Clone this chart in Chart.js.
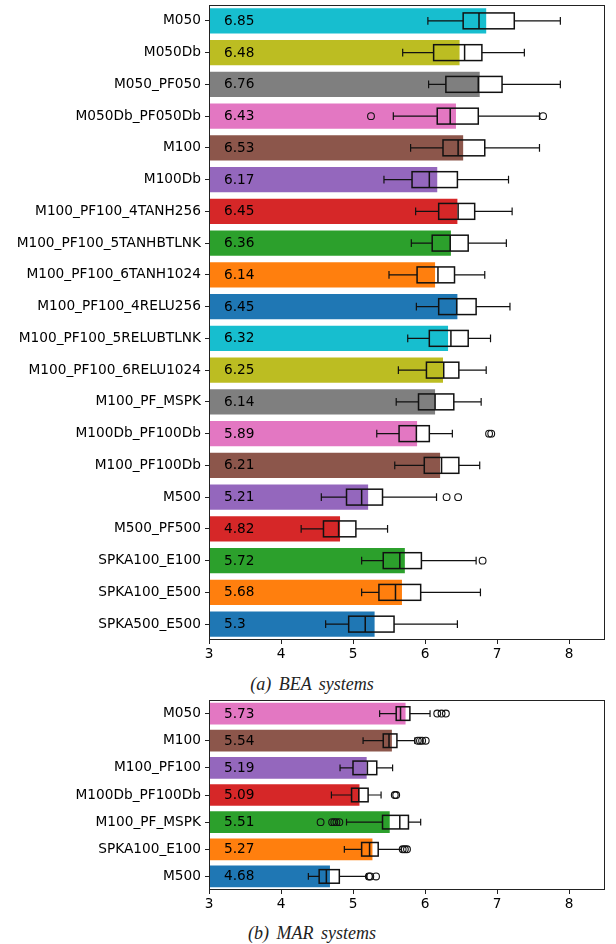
<!DOCTYPE html>
<html>
<head>
<meta charset="utf-8">
<script src="https://cdn.jsdelivr.net/npm/chart.js@4/dist/chart.umd.min.js"></script>
<style>
  body { margin: 0; background: #fff; width: 616px; height: 944px; position: relative; overflow: hidden; }
  canvas { position: absolute; left: 0; }
  .cap { position: absolute; left: 4px; width: 616px; text-align: center; font-family: 'Liberation Serif', serif;
         font-style: italic; font-size: 18px; line-height: 20px; color: #222; word-spacing: 3px; }
</style>
</head>
<body>
<canvas id="bea" width="616" height="670" style="top:0"></canvas>
<div class="cap" style="top:674px">(a) BEA systems</div>
<canvas id="mar" width="616" height="225" style="top:695px"></canvas>
<div class="cap" style="top:923px">(b) MAR systems</div>
<script>
// ---- BEA systems ----
const beaLabels = ['M050', 'M050Db', 'M050_PF050', 'M050Db_PF050Db', 'M100', 'M100Db',
  'M100_PF100_4TANH256', 'M100_PF100_5TANHBTLNK', 'M100_PF100_6TANH1024',
  'M100_PF100_4RELU256', 'M100_PF100_5RELUBTLNK', 'M100_PF100_6RELU1024',
  'M100_PF_MSPK', 'M100Db_PF100Db', 'M100_PF100Db', 'M500', 'M500_PF500',
  'SPKA100_E100', 'SPKA100_E500', 'SPKA500_E500'];
const beaMeans = [6.85, 6.48, 6.76, 6.43, 6.53, 6.17, 6.45, 6.36, 6.14, 6.45,
  6.32, 6.25, 6.14, 5.89, 6.21, 5.21, 4.82, 5.72, 5.68, 5.3];
const beaLow = [6.04, 5.69, 6.05, 5.56, 5.80, 5.43, 5.87, 5.81, 5.50, 5.88,
  5.76, 5.63, 5.60, 5.33, 5.58, 4.56, 4.28, 5.12, 5.12, 4.62];
const beaQ1 = [6.53, 6.12, 6.29, 6.17, 6.25, 5.82, 6.19, 6.10, 5.89, 6.19,
  6.06, 6.02, 5.91, 5.64, 5.99, 4.91, 4.59, 5.42, 5.36, 4.94];
const beaMedian = [6.75, 6.55, 6.74, 6.35, 6.46, 6.06, 6.46, 6.35, 6.18, 6.44,
  6.36, 6.26, 6.14, 5.88, 6.23, 5.12, 4.80, 5.65, 5.59, 5.17];
const beaQ3 = [7.24, 6.79, 7.07, 6.74, 6.83, 6.45, 6.69, 6.60, 6.41, 6.71,
  6.60, 6.47, 6.40, 6.06, 6.47, 5.41, 5.04, 5.95, 5.94, 5.57];
const beaHigh = [7.88, 7.38, 7.88, 7.59, 7.59, 7.16, 7.21, 7.13, 6.83, 7.18,
  6.91, 6.85, 6.78, 6.38, 6.76, 6.16, 5.48, 6.71, 6.77, 6.45];
const beaOutliers = [[], [], [], [5.25, 7.64], [], [], [], [], [], [],
  [], [], [], [6.89, 6.92], [], [6.30, 6.46], [], [6.80], [], []];

// ---- MAR systems ----
const marLabels = ['M050', 'M100', 'M100_PF100', 'M100Db_PF100Db', 'M100_PF_MSPK', 'SPKA100_E100', 'M500'];
const marMeans = [5.73, 5.54, 5.19, 5.09, 5.51, 5.27, 4.68];
const marLow = [5.37, 5.14, 4.82, 4.70, 4.91, 4.88, 4.38];
const marQ1 = [5.60, 5.42, 5.00, 4.98, 5.41, 5.12, 4.53];
const marMedian = [5.66, 5.50, 5.20, 5.08, 5.65, 5.23, 4.63];
const marQ3 = [5.79, 5.61, 5.33, 5.21, 5.77, 5.35, 4.81];
const marHigh = [6.07, 5.86, 5.55, 5.39, 5.94, 5.67, 5.19];
const marOutliers = [[6.17, 6.23, 6.29], [5.90, 5.93, 5.96, 6.01], [], [5.58, 5.60],
  [4.55, 4.71, 4.74, 4.77, 4.81], [5.69, 5.72, 5.75], [5.22, 5.24, 5.32]];

// x axis ticks
const xTicks = [3, 4, 5, 6, 7, 8];
const xMin = 3, xMax = 8.5;

const tab10 = ['#1f77b4', '#ff7f0e', '#2ca02c', '#d62728', '#9467bd',
  '#8c564b', '#e377c2', '#7f7f7f', '#bcbd22', '#17becf'];
// colour cycle starts from the bottom bar
const cycleColors = n => Array.from({ length: n }, (_, i) => tab10[(n - 1 - i) % 10]);

const FONT = { family: "'DejaVu Sans', sans-serif", size: 13.7 };

// Boxplots, value labels and the axes frame drawn through the chart scales
const boxPlugin = {
  id: 'boxes',
  afterDatasetsDraw(chart) {
    const st = chart.options.plugins.boxes;
    const { ctx, chartArea: a } = chart;
    const x = chart.scales.x, y = chart.scales.y;
    const band = Math.abs(y.getPixelForValue(1) - y.getPixelForValue(0));
    ctx.save();
    // value labels
    ctx.fillStyle = '#000';
    ctx.font = `${FONT.size}px ${FONT.family}`;
    ctx.textBaseline = 'middle';
    ctx.textAlign = 'left';
    st.means.forEach((v, i) => {
      ctx.fillText(String(v), a.left + 15, y.getPixelForValue(i) + 0.5);
    });
    // boxplots
    ctx.strokeStyle = '#111';
    st.q1.forEach((_, i) => {
      const yc = y.getPixelForValue(i);
      const hb = band * 0.25, hc = band * 0.125;
      const pL = x.getPixelForValue(st.low[i]), p1 = x.getPixelForValue(st.q1[i]);
      const pm = x.getPixelForValue(st.med[i]), p3 = x.getPixelForValue(st.q3[i]);
      const pH = x.getPixelForValue(st.high[i]);
      ctx.lineWidth = 1.2;
      ctx.beginPath();
      ctx.moveTo(pL, yc); ctx.lineTo(p1, yc);
      ctx.moveTo(p3, yc); ctx.lineTo(pH, yc);
      ctx.moveTo(pL, yc - hc); ctx.lineTo(pL, yc + hc);
      ctx.moveTo(pH, yc - hc); ctx.lineTo(pH, yc + hc);
      ctx.stroke();
      ctx.lineWidth = 1.5;
      ctx.strokeRect(p1, yc - hb, p3 - p1, hb * 2);
      ctx.beginPath();
      ctx.moveTo(pm, yc - hb); ctx.lineTo(pm, yc + hb);
      ctx.stroke();
      ctx.lineWidth = 1.1;
      st.outliers[i].forEach(v => {
        ctx.beginPath();
        ctx.arc(x.getPixelForValue(v), yc, 3.4, 0, Math.PI * 2);
        ctx.stroke();
      });
    });
    // frame
    ctx.lineWidth = 1;
    ctx.strokeStyle = '#222';
    ctx.strokeRect(Math.round(a.left) + 0.5, Math.round(a.top) + 0.5,
      Math.round(a.right - a.left) - 1, Math.round(a.bottom - a.top) - 1);
    ctx.restore();
  }
};

function makeChart(id, labels, means, low, q1, med, q3, high, outliers, topPad) {
  return new Chart(document.getElementById(id), {
    type: 'bar',
    data: {
      labels,
      datasets: [{
        data: means,
        backgroundColor: cycleColors(labels.length),
        borderWidth: 0,
        barPercentage: 0.8,
        categoryPercentage: 1.0
      }]
    },
    options: {
      indexAxis: 'y',
      responsive: false,
      animation: false,
      devicePixelRatio: 1,
      layout: { padding: { top: topPad, right: 11, left: 0, bottom: 0 } },
      plugins: {
        legend: { display: false },
        tooltip: { enabled: false },
        boxes: { means, low, q1, med, q3, high, outliers }
      },
      scales: {
        x: {
          type: 'linear', min: xMin, max: xMax,
          afterBuildTicks: s => { s.ticks = xTicks.map(v => ({ value: v })); },
          afterFit: s => { s.height = 30; },
          grid: { display: true, drawOnChartArea: false, drawTicks: true, tickLength: 4, color: '#222' },
          border: { display: false },
          ticks: { font: FONT, color: '#000', padding: 2, maxRotation: 0 }
        },
        y: {
          type: 'category',
          afterFit: s => { s.width = 209; s.paddingTop = 0; s.paddingBottom = 0; },
          grid: { display: true, drawOnChartArea: false, drawTicks: true, tickLength: 4, color: '#222', offset: false },
          border: { display: false },
          ticks: { font: FONT, color: '#000', padding: 4, autoSkip: false }
        }
      }
    },
    plugins: [boxPlugin]
  });
}

makeChart('bea', beaLabels, beaMeans, beaLow, beaQ1, beaMedian, beaQ3, beaHigh, beaOutliers, 5);
makeChart('mar', marLabels, marMeans, marLow, marQ1, marMedian, marQ3, marHigh, marOutliers, 5);
</script>
</body>
</html>
